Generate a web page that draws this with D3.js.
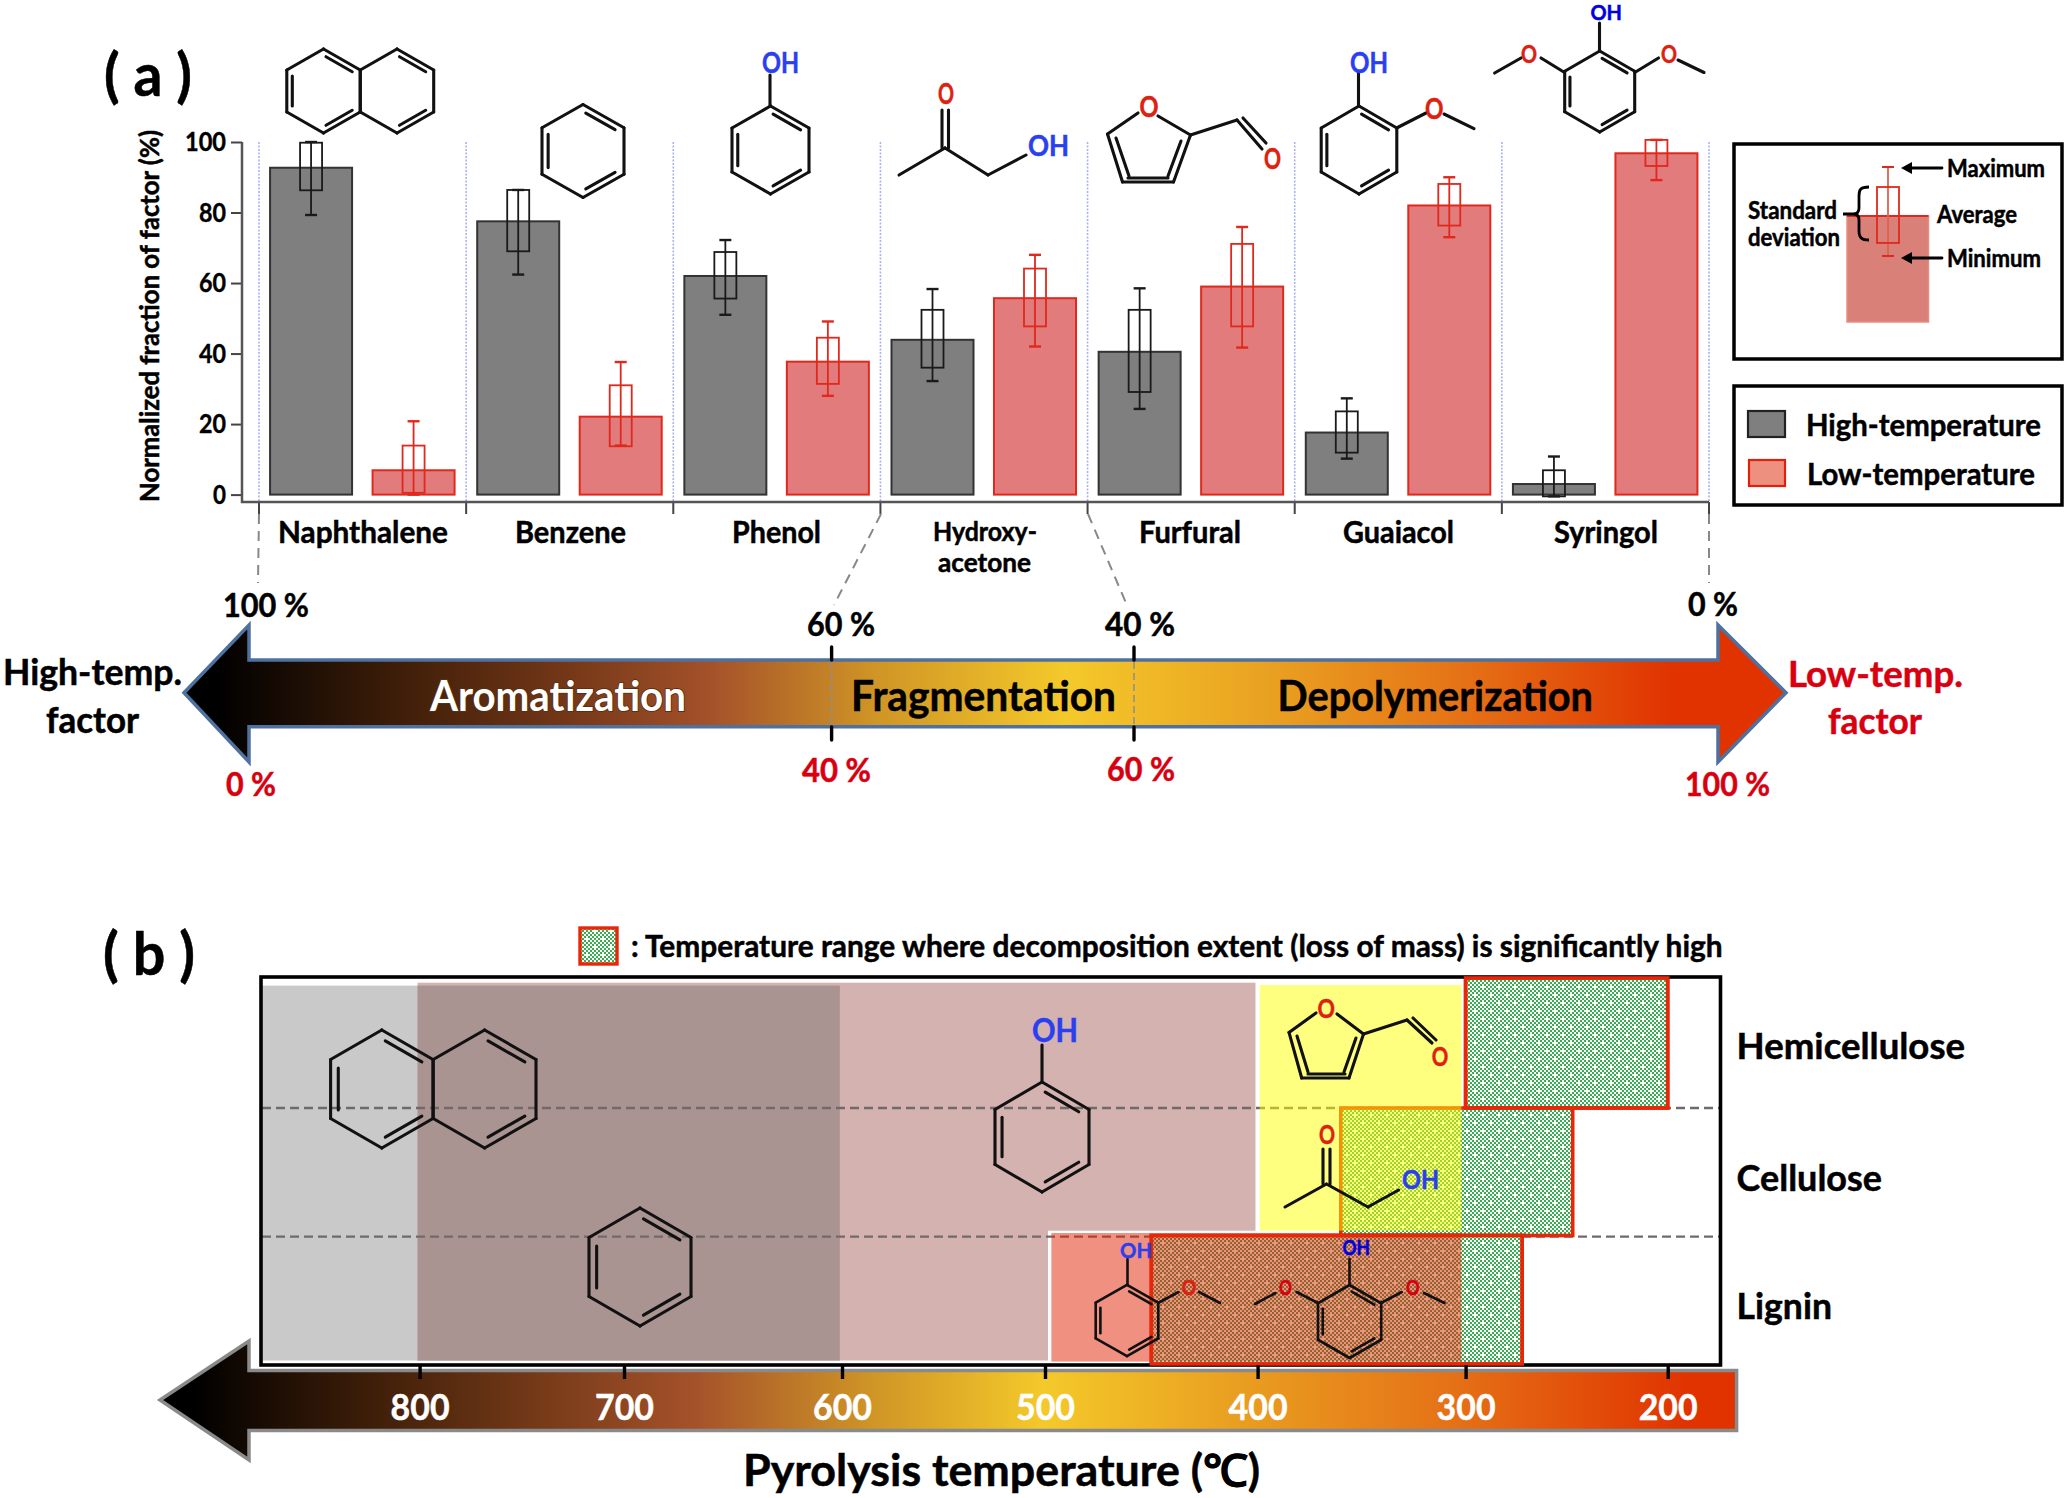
<!DOCTYPE html>
<html><head><meta charset="utf-8">
<script src="https://cdn.jsdelivr.net/npm/d3@7/dist/d3.min.js"></script>
<style>html,body{margin:0;padding:0;background:#fff}svg{display:block}text{font-family:Lato,"Open Sans",sans-serif;font-weight:700}</style>
</head><body><div id="c"></div>
<script>
// ---------- data ----------
const categories = ["Naphthalene","Benzene","Phenol","Hydroxy-acetone","Furfural","Guaiacol","Syringol"];
const series = ["High-temperature","Low-temperature"];
const highMean = [92.7,77.5,62,43.9,40.5,17.6,3];
const highSdUp = [99.8,86.4,68.8,52.4,52.4,23.6,6.9];
const highSdLo = [86.3,69,55.6,36,29.1,11.9,-0.5];
const highMax  = [100,86.4,72.2,58.3,58.5,27.3,10.8];
const highMin  = [79.3,62.4,51,32.2,24.3,10.2,-0.5];
const lowMean  = [6.9,22.1,37.7,55.7,59,82,96.8];
const lowSdUp  = [13.9,31,44.5,64.1,71.1,88.1,100.6];
const lowSdLo  = [0.5,13.7,31.4,47.7,47.7,76.3,93.2];
const lowMax   = [20.8,37.6,49.1,68,75.9,90,100.6];
const lowMin   = [0,13.9,28,42,41.7,73,89.2];
const yTicks = [0,20,40,60,80,100];
const keySample = {mean:68.4, up:87.1, lo:51, max:100, min:42.6};
const tempTicks = [800,700,600,500,400,300,200];
const polymers = ["Hemicellulose","Cellulose","Lignin"];
const decompRanges = [[300,200],[360,247],[450,272]];   // [from, to] in deg C, per polymer
const greyRange = [877,601], pinkRange = [801,401], overlapRange = [801,601], pinkLowerEnd = 498.6;
const yellowRange = [399,302], salmonRange = [497,302];

// ---------- helpers ----------
const W=2067,H=1498,RED="#d80010",BLUE="#2a3ff0",ORED="#dd2010",GREY="#7f7f7f",LRED="#e0281c";
const svg=d3.select("#c").append("svg").attr("width",W).attr("height",H).attr("viewBox",[0,0,W,H]);
const defs=svg.append("defs");
function T(g,s,x0,x1,base,size,color="#000",extra){
  const t=g.append("text").attr("x",x0).attr("y",base).attr("font-size",size).attr("fill",color)
    .attr("textLength",x1-x0).attr("lengthAdjust","spacingAndGlyphs").text(s)
    .attr("stroke",color).attr("stroke-width",0.5);
  if(extra) t.style("paint-order","stroke").attr("stroke",extra).attr("stroke-width",1.8);
  return t;
}
function bonds(g,list,w=3.1,col="#111"){
  g.selectAll(null).data(list).join("line")
   .attr("x1",d=>d[0]).attr("y1",d=>d[1]).attr("x2",d=>d[2]).attr("y2",d=>d[3])
   .attr("stroke",col).attr("stroke-width",w).attr("stroke-linecap","round");
}
function ring(g,cx,cy,hw,hh,dbl,w){
  const v=[[cx,cy-hh],[cx+hw,cy-hh/2],[cx+hw,cy+hh/2],[cx,cy+hh],[cx-hw,cy+hh/2],[cx-hw,cy-hh/2]];
  const list=v.map((p,i)=>{const q=v[(i+1)%6];return [p[0],p[1],q[0],q[1]];});
  dbl.forEach(i=>{
    const p=v[i],q=v[(i+1)%6],k=.85;
    const a=[cx+(p[0]-cx)*k,cy+(p[1]-cy)*k],b=[cx+(q[0]-cx)*k,cy+(q[1]-cy)*k];
    const s=.08;
    list.push([a[0]+(b[0]-a[0])*s,a[1]+(b[1]-a[1])*s,b[0]-(b[0]-a[0])*s,b[1]-(b[1]-a[1])*s]);
  });
  bonds(g,list,w);
}
function atoms(g,list,size){list.forEach(a=>T(g,a[0],a[1],a[2],a[3],size,a[4]));}
function arrow(pts,fillId,stroke){
  return svg.append("path").attr("d",d3.line()(pts)+"Z").attr("fill",`url(#${fillId})`)
    .attr("stroke",stroke).attr("stroke-width",3.5).attr("stroke-linejoin","miter");
}
function grad(id,stops){
  const g=defs.append("linearGradient").attr("id",id).attr("x1",0).attr("x2",1).attr("y1",0).attr("y2",0);
  g.selectAll("stop").data(stops).join("stop").attr("offset",d=>d[0]).attr("stop-color",d=>d[1]);
}
grad("ga",[[0.02,"#000"],[.13,"#3c1d08"],[.23,"#6f3516"],[.33,"#a5522a"],[.43,"#cf9426"],[.55,"#f4c92a"],[.68,"#e9a021"],[.8,"#e57116"],[.93,"#e03300"],[1,"#e03300"]]);
grad("gb",[[0.02,"#000"],[.13,"#3c1d08"],[.24,"#753a18"],[.34,"#a5522a"],[.45,"#cf9426"],[.56,"#f4c92a"],[.68,"#e9a021"],[.82,"#e57116"],[.97,"#e03300"],[1,"#e03300"]]);

// green hatch pattern: 2px checker with small white crosses, tiled
const pat=defs.append("pattern").attr("id","hatch").attr("patternUnits","userSpaceOnUse").attr("width",16).attr("height",16);
pat.append("rect").attr("width",16).attr("height",16).attr("fill","#fff");
const cells=d3.cross(d3.range(8),d3.range(8)).filter(d=>(d[0]+d[1])%2==0);
pat.selectAll(".c").data(cells).join("rect").attr("class","c").attr("x",d=>d[0]*2).attr("y",d=>d[1]*2).attr("width",2).attr("height",2).attr("fill","#38ad50");
[[3,3],[11,11]].forEach(p=>{
  pat.append("rect").attr("x",p[0]-3).attr("y",p[1]-1).attr("width",6).attr("height",2).attr("fill","#fff");
  pat.append("rect").attr("x",p[0]-1).attr("y",p[1]-3).attr("width",2).attr("height",6).attr("fill","#fff");
});

// ---------- panel a ----------
const A=svg.append("g");
T(A,"( a )",104,192,96,60);
const x=d3.scaleBand().domain(categories).range([259,1709]);
const xs=d3.scalePoint().domain(series).range([-51.5,51]);
const y=d3.scaleLinear().domain([0,100]).range([494.6,142]);
const rows=[];
categories.forEach((c,i)=>{
  rows.push({c,s:series[0],m:highMean[i],u:highSdUp[i],l:highSdLo[i],a:highMax[i],b:highMin[i]});
  rows.push({c,s:series[1],m:lowMean[i],u:lowSdUp[i],l:lowSdLo[i],a:lowMax[i],b:lowMin[i]});
});
const cx=d=>x(d.c)+x.bandwidth()/2+xs(d.s);
const isH=d=>d.s===series[0];
// guides
const dividers=d3.range(8).map(i=>259+i*x.bandwidth());
A.selectAll(".div").data(dividers).join("line").attr("x1",d=>d).attr("x2",d=>d).attr("y1",y(100)).attr("y2",502)
  .attr("stroke","#aab2f2").attr("stroke-width",1.6).attr("stroke-dasharray","2 1.5");
A.selectAll(".dt").data(dividers).join("line").attr("x1",d=>d).attr("x2",d=>d).attr("y1",502).attr("y2",514).attr("stroke","#444").attr("stroke-width",2);
// bars
A.selectAll(".bar").data(rows).join("rect").attr("x",d=>cx(d)-41).attr("width",82)
  .attr("y",d=>y(d.m)).attr("height",d=>y(0)-y(d.m))
  .attr("fill",d=>isH(d)?GREY:"#e27c7c").attr("stroke",d=>isH(d)?"#333":LRED).attr("stroke-width",2);
// whiskers + sd boxes
const col=d=>isH(d)?"#1a1a1a":LRED;
A.selectAll(".w").data(rows).join("line").attr("x1",cx).attr("x2",cx).attr("y1",d=>y(d.a)).attr("y2",d=>y(d.b)).attr("stroke",col).attr("stroke-width",1.8);
A.selectAll(".cu").data(rows).join("line").attr("x1",d=>cx(d)-6).attr("x2",d=>cx(d)+6).attr("y1",d=>y(d.a)).attr("y2",d=>y(d.a)).attr("stroke",col).attr("stroke-width",2.4);
A.selectAll(".cl").data(rows).join("line").attr("x1",d=>cx(d)-6).attr("x2",d=>cx(d)+6).attr("y1",d=>y(d.b)).attr("y2",d=>y(d.b)).attr("stroke",col).attr("stroke-width",2.4);
A.selectAll(".sd").data(rows).join("rect").attr("x",d=>cx(d)-11).attr("width",22).attr("y",d=>y(d.u)).attr("height",d=>y(d.l)-y(d.u))
  .attr("fill","none").attr("stroke",col).attr("stroke-width",1.8);
// axis
const ya=A.append("g").attr("transform","translate(242,0)").call(d3.axisLeft(y).tickValues(yTicks).tickSize(11));
ya.select(".domain").remove();
ya.selectAll("line").attr("stroke","#444").attr("stroke-width",2);
ya.selectAll("text").attr("font-size",27).attr("fill","#000").attr("stroke","#000").attr("stroke-width",.4).attr("x",-16).attr("font-family",null)
  .attr("textLength",d=>d==100?41:d==0?13:27).attr("lengthAdjust","spacingAndGlyphs");
A.append("path").attr("d",d3.line()([[242,y(100)],[242,502],[1709,502]])).attr("fill","none").attr("stroke","#555").attr("stroke-width",2.5);
const yl=A.append("g").attr("transform","translate(159,502) rotate(-90)");
T(yl,"Normalized fraction of factor (%)",0,372,0,27);
// category labels
[["Naphthalene",278,448,543],["Benzene",515,626,543],["Phenol",732,821,543],["Hydroxy-",933,1037,541],["acetone",938,1031,572],["Furfural",1139,1241,543],["Guaiacol",1343,1454,543],["Syringol",1554,1658,543]]
 .forEach(r=>T(A,r[0],r[1],r[2],r[3],r[0]==="Hydroxy-"||r[0]==="acetone"?27:31));
// dashed connectors
A.selectAll(".con").data([[259,514,258,583],[881,514,834,605],[1088,514,1126,603],[1709,514,1709,583]]).join("line")
 .attr("x1",d=>d[0]).attr("y1",d=>d[1]).attr("x2",d=>d[2]).attr("y2",d=>d[3]).attr("stroke","#888").attr("stroke-width",2).attr("stroke-dasharray","10 7");

// molecules a
const M=svg.append("g");
ring(M,323.5,91,36.7,42,[0,2,4]); ring(M,397,91,36.7,42,[0,2]);
ring(M,583,151,41,46.5,[0,2,4]);
ring(M,770.5,150,38.5,44,[0,2,4]); bonds(M,[[770,106,770,75]]);
atoms(M,[["OH",762,799,73,BLUE]],28);
bonds(M,[[899,175,945,148],[945,148,988,175],[988,175,1026,155],[942,148,942,110],[948.5,148,948.5,110]]);
atoms(M,[["O",938,954,104,ORED],["OH",1028,1069,156,BLUE]],28);
bonds(M,[[1107.5,134,1138,113],[1158,116,1190.5,135],[1190.5,135,1173.5,182],[1173.5,182,1122.5,182],[1122.5,182,1107.5,134],[1116,138,1129,176],[1181,141,1168,176],[1128,178,1168,178],[1190.5,135,1237,120],[1237,120,1262,149],[1243,118,1266,143]]);
atoms(M,[["O",1139.5,1158.5,117,ORED],["O",1264,1281,169,ORED]],28);
ring(M,1359,150,37.8,44,[0,2,4]); bonds(M,[[1358.5,106,1358.5,73],[1396.6,128,1426,113],[1444,114,1474,128.6]]);
atoms(M,[["OH",1350,1388,73,BLUE],["O",1425,1443.5,118.6,ORED]],28);
ring(M,1599.7,91.5,35,40.5,[0,2,4]); bonds(M,[[1599.5,51,1599.5,23],[1564.6,72.5,1541,58],[1634.7,72.5,1658.5,58],[1521,58,1494.6,73],[1678,60,1704,72.5]]);
atoms(M,[["OH",1590.5,1622,20,"#0000e0"]],20);
atoms(M,[["O",1521,1537,62.5,ORED],["O",1661,1677,62.5,ORED]],25);

// key box
const K=svg.append("g");
K.append("rect").attr("x",1734).attr("y",144).attr("width",328).attr("height",215).attr("fill","#fff").attr("stroke","#000").attr("stroke-width",3.5);
const ky=d3.scaleLinear().domain([0,100]).range([322,167]);
K.append("rect").attr("x",1847).attr("width",81.5).attr("y",ky(keySample.mean)).attr("height",ky(0)-ky(keySample.mean)).attr("fill","#d98078").attr("stroke","#e88e80").attr("stroke-width",1.5);
K.append("line").attr("x1",1847).attr("x2",1928.5).attr("y1",ky(keySample.mean)).attr("y2",ky(keySample.mean)).attr("stroke",LRED).attr("stroke-width",2);
K.append("line").attr("x1",1888).attr("x2",1888).attr("y1",ky(keySample.max)).attr("y2",ky(keySample.min)).attr("stroke","#e06050").attr("stroke-width",1.8);
[keySample.max,keySample.min].forEach(v=>K.append("line").attr("x1",1882).attr("x2",1894).attr("y1",ky(v)).attr("y2",ky(v)).attr("stroke",LRED).attr("stroke-width",2));
K.append("rect").attr("x",1877).attr("width",22).attr("y",ky(keySample.up)).attr("height",ky(keySample.lo)-ky(keySample.up)).attr("fill","none").attr("stroke",LRED).attr("stroke-width",1.8);
[[1942,168],[1942,258]].forEach(p=>{
  bonds(K,[[p[0],p[1],1910,p[1]]],2.8,"#000");
  K.append("path").attr("d",d3.line()([[1901,p[1]],[1912,p[1]-6],[1912,p[1]+6]])+"Z").attr("fill","#000");
});
K.append("path").attr("d","M1869,187 C1860,187 1859,190 1859,196 L1859,208 C1859,212 1857,214 1853,214 L1843,214 M1853,214 C1857,214 1859,216 1859,220 L1859,231 C1859,238 1862,240 1869,240").attr("fill","none").attr("stroke","#000").attr("stroke-width",2.8);
[["Maximum",1947,2045,177],["Average",1937,2017,223],["Minimum",1947,2041,267],["Standard",1748,1837,219],["deviation",1748,1840,246]].forEach(r=>T(K,r[0],r[1],r[2],r[3],24));
// legend box
const L=svg.append("g");
L.append("rect").attr("x",1734).attr("y",386).attr("width",328).attr("height",119).attr("fill","#fff").attr("stroke","#000").attr("stroke-width",3.5);
L.append("rect").attr("x",1748).attr("y",411).attr("width",37).attr("height",26).attr("fill",GREY).attr("stroke","#222").attr("stroke-width",2.2);
L.append("rect").attr("x",1749).attr("y",460).attr("width",36).attr("height",26).attr("fill","#ee9080").attr("stroke","#e0200c").attr("stroke-width",2.2);
T(L,series[0],1806,2041,436,31); T(L,series[1],1807,2035,485,31);

// arrow a
arrow([[184,692.7],[249,625],[249,660],[1718,660],[1718,625],[1786,692.7],[1718,762],[1718,726.7],[249,726.7],[249,762]],"ga","#4f719f");
const AR=svg.append("g");
[831.6,1134].forEach(v=>{
  bonds(AR,[[v,647,v,660],[v,727,v,740]],3.4,"#000");
  AR.append("line").attr("x1",v).attr("x2",v).attr("y1",662).attr("y2",725).attr("stroke","#8f8f8f").attr("stroke-width",1.6).attr("stroke-dasharray","7 4");
});
T(AR,"Aromatization",430,686,710.7,42,"#fff","#5a3010");
T(AR,"Fragmentation",851,1116,710.7,42,"#000");
T(AR,"Depolymerization",1277.5,1593,710.7,42,"#000");
T(AR,"High-temp.",3,182,685,36); T(AR,"factor",46,139,733,36);
T(AR,"Low-temp.",1788,1963,687,36,RED); T(AR,"factor",1828,1922,734,36,RED);
[["100 %",223,309,617],["60 %",807,875,636],["40 %",1105,1175,636],["0 %",1688,1738,616]].forEach(r=>T(AR,r[0],r[1],r[2],r[3],33));
[["0 %",226,276,796],["40 %",802,871,782],["60 %",1107,1175,781],["100 %",1685,1770,796]].forEach(r=>T(AR,r[0],r[1],r[2],r[3],33,RED));

// ---------- panel b ----------
const B=svg.append("g");
T(B,"( b )",103,195,975,60);
// swatch + note
B.append("rect").attr("x",580).attr("y",928).attr("width",37).attr("height",36).attr("fill","url(#hatch)").attr("stroke","#e8260a").attr("stroke-width",3.4);
T(B,": Temperature range where decomposition extent (loss of mass) is significantly high",631,1722.6,957,31);
// piecewise scale – reference axis ticks are slightly unevenly placed
const t=d3.scaleLinear().domain(tempTicks).range([419.6,624,842,1045,1257.6,1465.6,1667.7]);
const bandTop=982.7,bandBot=1360.5;
const rowEdges=[978,1108,1235.5,1364];
const band=(g,r,y0,y1,fill,op)=>g.append("rect").attr("x",t(r[0])).attr("width",t(r[1])-t(r[0])).attr("y",y0).attr("height",y1-y0).attr("fill",fill).attr("fill-opacity",op===undefined?1:op);
band(B,greyRange,985.6,bandBot,"#c9c9c9");
band(B,pinkRange,bandTop,bandBot,"#d3b2b0");
band(B,overlapRange,985.6,bandBot,"#aa9492");
// white gap that cuts the pink band in the lowest row
B.append("rect").attr("x",t(pinkLowerEnd)).attr("y",1230.7).attr("width",t(300)-t(pinkLowerEnd)).attr("height",135).attr("fill","#fff");
// dashed row lines
B.selectAll(".rl").data([1108,1236.6]).join("line").attr("x1",262).attr("x2",1720).attr("y1",d=>d).attr("y2",d=>d)
 .attr("stroke","#706a6a").attr("stroke-width",2.4).attr("stroke-dasharray","9 5");
// decomposition boxes
B.selectAll(".dr").data(decompRanges).join("rect").attr("x",d=>t(d[0])).attr("width",d=>t(d[1])-t(d[0]))
 .attr("y",(d,i)=>rowEdges[i]).attr("height",(d,i)=>rowEdges[i+1]-rowEdges[i])
 .attr("fill","url(#hatch)").attr("stroke","#e8260a").attr("stroke-width",3.6);
// translucent overlays
band(B,yellowRange,985,1230.7,"rgb(255,255,0)",.5);
band(B,salmonRange,1233,1361.6,"rgb(225,33,1)",.5);
// frame
B.append("rect").attr("x",261).attr("y",977).attr("width",1459.5).attr("height",388).attr("fill","none").attr("stroke","#000").attr("stroke-width",3.6);
// re-stroke the outer edges of the boxes that sit on the frame
B.append("rect").attr("x",t(300)).attr("width",t(200)-t(300)).attr("y",978).attr("height",130).attr("fill","none").attr("stroke","#e8260a").attr("stroke-width",3.6);
B.append("rect").attr("x",t(450)).attr("width",t(272)-t(450)).attr("y",1235.5).attr("height",128.5).attr("fill","none").attr("stroke","#e8260a").attr("stroke-width",3.4);
// row labels
[[polymers[0],1736.6,1965,1059],[polymers[1],1736.6,1882,1191],[polymers[2],1736.6,1832,1319]].forEach(r=>T(B,r[0],r[1],r[2],r[3],36));

// molecules b
const N=svg.append("g");
ring(N,381.8,1089,51.2,59,[0,2,4]); ring(N,484.6,1089,51.4,59,[0,2]);
ring(N,640,1267,51,59,[0,2,4]);
ring(N,1042,1137,47,55,[0,2,4]); bonds(N,[[1042,1082,1042,1045]]);
atoms(N,[["OH",1032,1078,1041.6,BLUE]],32);
bonds(N,[[1289,1032.4,1316,1013],[1337,1014,1363.5,1034],[1363.5,1034,1349,1078],[1349,1078,1301.7,1078],[1301.7,1078,1289,1032.4],[1297,1036,1308,1072],[1356,1038,1344,1072],[1308,1074,1345,1074],[1363.5,1034,1407,1020],[1407,1020,1432,1043],[1413,1018,1436,1040]]);
atoms(N,[["O",1317.6,1335,1017.7,ORED],["O",1431.8,1448.3,1065.6,ORED]],26);
bonds(N,[[1285,1207,1326.5,1184],[1326.5,1184,1368,1207],[1368,1207,1398.6,1190],[1323,1184,1323,1149],[1330,1184,1330,1149]]);
atoms(N,[["O",1319,1335,1143.7,ORED],["OH",1402,1439,1189,BLUE]],26);
ring(N,1127,1320.5,31.3,35.6,[0,2,4],2.6); bonds(N,[[1127.5,1285,1127.5,1259],[1158,1303,1178.6,1292],[1199,1292,1220,1303]],2.6);
atoms(N,[["OH",1120,1152,1258,BLUE],["O",1181.8,1196.4,1295,ORED]],21);
ring(N,1349.6,1321.5,31.6,36.5,[0,2,4],2.6); bonds(N,[[1349.5,1285,1349.5,1259],[1318,1303,1296.5,1292],[1275.5,1293,1255,1304],[1381,1303,1401.8,1292],[1424,1293,1444.5,1303]],2.6);
atoms(N,[["OH",1342.5,1370,1255.4,"#0000e0"],["O",1279,1292,1295,"#d80010"],["O",1406,1419.6,1295,"#d80010"]],20);

// temperature arrow + axis
arrow([[160,1400],[249,1341],[249,1370.4],[1736.6,1370.4],[1736.6,1430.5],[249,1430.5],[249,1460]],"gb","#8a8a8a");
const ta=svg.append("g").attr("transform","translate(0,1365)").call(d3.axisBottom(t).tickValues(tempTicks).tickSize(14).tickFormat(d3.format("d")));
ta.select(".domain").remove();
ta.selectAll("line").attr("stroke","#000").attr("stroke-width",3.4);
ta.selectAll("text").attr("font-size",37).attr("fill","#fff").attr("stroke","#fff").attr("stroke-width",.5).attr("font-family",null).attr("y",0).attr("dy",55)
  .attr("textLength",59).attr("lengthAdjust","spacingAndGlyphs");
T(svg,"Pyrolysis temperature (℃)",743,1260,1486,44);
</script></body></html>
